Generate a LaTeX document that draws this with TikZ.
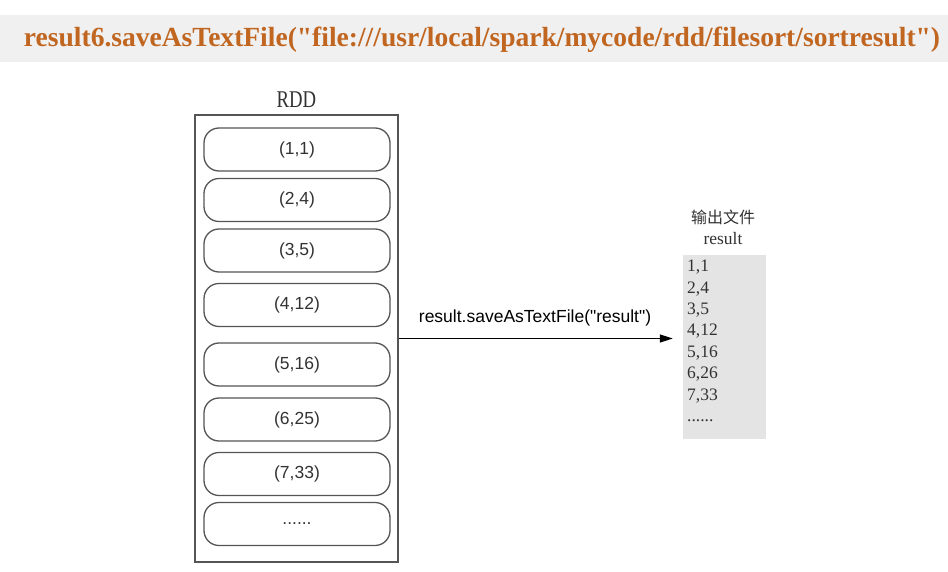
\documentclass[tikz,border=0pt]{standalone}
\usepackage{fontspec}
\setmainfont{Liberation Serif}
\setsansfont{Liberation Sans}
\newfontfamily\titlefont{Liberation Serif}
\newfontfamily\labelfont{Liberation Sans}
\newfontfamily\cjkfont{Noto Sans CJK SC}
\usetikzlibrary{arrows.meta}
\definecolor{titlecol}{RGB}{192,102,32}
\definecolor{bandgray}{RGB}{240,240,240}
\definecolor{filegray}{RGB}{228,228,228}
\definecolor{edgegray}{RGB}{85,85,85}
\definecolor{txtgray}{RGB}{50,50,50}
\tikzset{
  elem/.style={draw=edgegray, line width=1.3pt, rounded corners=15pt, minimum width=186pt, minimum height=43pt, inner sep=0pt,
    font=\sffamily\fontsize{17.5}{20}\selectfont, text=txtgray},
  rddbox/.style={draw=edgegray, line width=1.3pt, minimum width=203pt, minimum height=447pt, inner sep=0pt},
  filebox/.style={fill=filegray, minimum width=83pt, minimum height=184pt, inner sep=0pt},
  flow/.style={-{Triangle[length=13pt,width=8pt]}, line width=1.2pt, black}
}
\begin{document}
\begin{tikzpicture}[x=1pt,y=-1pt]
\useasboundingbox (0,0) rectangle (948,572);
\fill[bandgray] (0,15) rectangle (948,62);
\node[inner sep=0pt, anchor=base, text=titlecol, font=\titlefont\bfseries\fontsize{26.5}{30}\selectfont] (title) at (482,47)
  {\resizebox{916pt}{19.5pt}{result6.saveAsTextFile("file:///usr/local/spark/mycode/rdd/filesort/sortresult")}};
\node[rddbox] (rdd) at (296.5,338.5) {};
\node[inner sep=0pt, text=txtgray, font=\fontsize{24}{26}\selectfont] (rddlabel) at (296.5,100) {\scalebox{0.78}[1]{RDD}};
\node[elem] (e1) at (297,149.5) {(1,1)};
\node[elem] (e2) at (297,200) {(2,4)};
\node[elem] (e3) at (297,250.5) {(3,5)};
\node[elem] (e4) at (297,305) {(4,12)};
\node[elem] (e5) at (297,364.5) {(5,16)};
\node[elem] (e6) at (297,419.5) {(6,25)};
\node[elem] (e7) at (297,474) {(7,33)};
\node[elem] (e8) at (297,524) {......};
\node[filebox] (out) at (724.5,347) {};
\node[inner sep=0pt, text=txtgray, font=\cjkfont\fontsize{16}{18}\selectfont] (outlabel) at (723,217) {输出文件};
\node[inner sep=0pt, text=txtgray, font=\fontsize{17.5}{20}\selectfont] (outname) at (723,239) {result};
\node[inner sep=0pt, anchor=north west, align=left, text=txtgray, font=\fontsize{17.5}{21.4}\selectfont] (outlist) at (687,260)
  {1,1\\2,4\\3,5\\4,12\\5,16\\6,26\\7,33\\......};
\draw[flow, shorten >=10pt] (rdd.east) -- (rdd.east -| out.west)
  node[pos=0.48, above=12pt, inner sep=0pt, text=black, font=\labelfont\fontsize{17.5}{20}\selectfont] (flowlabel) {result.saveAsTextFile("result")};
\end{tikzpicture}
\end{document}
